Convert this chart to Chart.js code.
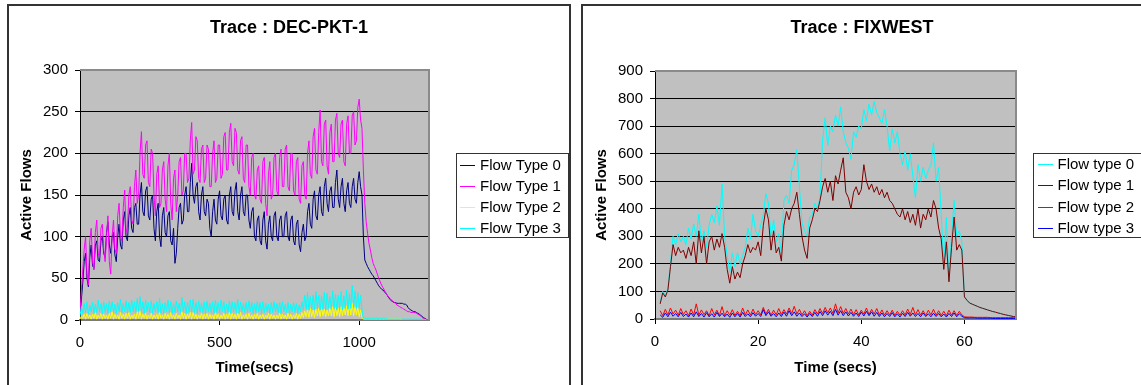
<!DOCTYPE html>
<html>
<head>
<meta charset="utf-8">
<title>Active flows per trace</title>
<script src="https://cdn.jsdelivr.net/npm/chart.js@4.4.1/dist/chart.umd.min.js"></script>
<style>
  html, body { margin: 0; padding: 0; background: #fff; overflow: hidden; }
  body { width: 1141px; height: 385px; position: relative; }
  .panel { position: absolute; top: 4px; height: 420px; border: 2px solid #333; background: #fff; overflow: hidden; }
  #leftPanel { left: 7px; width: 560px; }
  #rightPanel { left: 581px; width: 600px; }
  canvas { position: absolute; left: 0; top: 0; }
</style>
</head>
<body>
<div class="panel" id="leftPanel"><canvas id="decChart" width="560" height="379"></canvas></div>
<div class="panel" id="rightPanel"><canvas id="fixChart" width="558" height="379"></canvas></div>
<script>
/* ── DEC-PKT-1 : samples every 5 s ── */
const DEC_START = 0, DEC_STEP = 5;
const decTicksX = [0, 500, 1000];
const decType0 = [
  5, 25, 45, 70, 80, 50, 40, 75, 90, 65,
  62, 90, 95, 72, 70, 95, 100, 80, 75, 105,
  118, 90, 80, 100, 105, 78, 70, 100, 115, 90,
  85, 120, 130, 100, 95, 125, 135, 110, 105, 135,
  140, 115, 115, 150, 165, 130, 125, 155, 160, 125,
  120, 145, 150, 110, 95, 130, 140, 100, 88, 125,
  135, 105, 100, 125, 130, 95, 90, 110, 68, 80,
  110, 135, 140, 115, 120, 150, 160, 130, 130, 165,
  188, 150, 140, 160, 165, 130, 120, 150, 160, 130,
  125, 145, 140, 110, 100, 130, 145, 120, 115, 145,
  155, 125, 120, 145, 150, 120, 115, 150, 160, 130,
  125, 155, 165, 130, 120, 150, 160, 130, 125, 150,
  150, 120, 110, 130, 135, 100, 95, 120, 125, 95,
  90, 120, 130, 95, 85, 115, 125, 100, 95, 125,
  130, 100, 95, 120, 125, 100, 100, 125, 130, 100,
  95, 120, 125, 95, 90, 115, 120, 90, 82, 105,
  115, 95, 100, 130, 140, 115, 110, 145, 155, 125,
  120, 150, 160, 130, 125, 160, 170, 140, 130, 155,
  160, 135, 135, 165, 180, 145, 135, 160, 170, 140,
  130, 155, 165, 140, 135, 160, 170, 145, 140, 165,
  178, 160, 150, 100, 72, 68, 64, 61, 58, 55,
  53, 50, 47, 44, 41, 39, 37, 36, 34, 32,
  30, 27, 25, 23, 22, 21, 21, 20, 20, 20,
  20, 20, 19, 19, 18, 15, 13, 12, 11, 10,
  10, 9, 8, 7, 6, 4, 3, 2, 1
];
const decType1 = [
  10, 35, 60, 85, 100, 55, 42, 95, 110, 70,
  60, 105, 120, 80, 75, 110, 115, 85, 70, 100,
  125, 70, 55, 100, 120, 85, 80, 125, 140, 100,
  95, 135, 156, 105, 110, 150, 160, 120, 115, 160,
  180, 140, 150, 200, 226, 175, 170, 210, 215, 165,
  160, 205, 200, 150, 125, 175, 185, 135, 140, 180,
  190, 145, 130, 185, 200, 140, 120, 170, 180, 130,
  150, 190, 195, 150, 155, 200, 200, 165, 170, 215,
  237, 175, 180, 220, 215, 170, 165, 205, 210, 165,
  170, 210, 205, 160, 160, 200, 215, 165, 170, 210,
  210, 170, 175, 220, 225, 180, 180, 225, 236, 190,
  185, 230, 225, 180, 175, 215, 220, 170, 165, 210,
  210, 160, 150, 195, 200, 150, 145, 180, 185, 145,
  140, 190, 195, 140, 125, 175, 190, 145, 150, 195,
  200, 155, 150, 195, 205, 160, 160, 205, 210, 160,
  155, 200, 200, 155, 150, 190, 195, 145, 140, 185,
  190, 150, 145, 200, 215, 175, 170, 220, 230, 180,
  175, 225, 252, 190, 185, 235, 240, 185, 175, 225,
  235, 190, 190, 240, 248, 200, 195, 235, 240, 190,
  185, 235, 245, 200, 200, 245, 250, 210, 215, 255,
  265, 240, 230, 180, 140, 118, 104, 92, 84, 75,
  68, 64, 60, 55, 50, 46, 42, 39, 36, 33,
  30, 28, 26, 24, 23, 21, 20, 18, 17, 16,
  15, 14, 13, 12, 11, 10, 10, 9, 9, 9,
  9, 8, 7, 6, 5, 3, 2, 1, 1
];
const decType2 = [
  1, 5, 2, 7, 1, 8, 2, 6, 1, 7,
  2, 9, 1, 6, 2, 8, 1, 7, 2, 6,
  1, 8, 2, 10, 1, 7, 2, 6, 1, 9,
  2, 7, 1, 8, 2, 9, 1, 6, 2, 7,
  1, 10, 2, 11, 1, 7, 2, 8, 1, 6,
  2, 8, 1, 6, 2, 7, 1, 9, 2, 6,
  1, 8, 2, 7, 1, 9, 2, 6, 1, 8,
  2, 6, 1, 10, 2, 8, 1, 7, 2, 9,
  1, 9, 2, 7, 1, 6, 2, 8, 1, 7,
  2, 8, 1, 7, 2, 6, 1, 9, 2, 7,
  1, 6, 2, 8, 1, 7, 2, 9, 1, 8,
  2, 7, 1, 8, 2, 9, 1, 6, 2, 7,
  1, 8, 2, 6, 1, 7, 2, 8, 1, 6,
  2, 7, 1, 6, 2, 8, 1, 7, 2, 6,
  1, 6, 2, 8, 1, 7, 2, 6, 1, 8,
  2, 7, 1, 6, 2, 8, 1, 7, 2, 9,
  3, 11, 4, 12, 3, 14, 4, 12, 3, 13,
  5, 14, 4, 15, 5, 13, 4, 12, 5, 14,
  5, 16, 4, 15, 5, 14, 4, 16, 5, 15,
  6, 17, 5, 19, 6, 20, 5, 16, 6, 15,
  4, 12, 3, 1, 1, 1, 1, 1, 1, 1,
  1, 1, 1, 1, 1, 1, 1, 1, 1, 1,
  1, 1, 1, 1, 1, 1, 1, 1, 1, 1,
  1, 0, 0, 0, 0, 0, 0, 0, 0, 0,
  0, 0, 0, 0, 0, 0, 0, 0, 0
];
const decType3 = [
  5, 16, 8, 20, 9, 22, 7, 18, 10, 21,
  8, 19, 9, 24, 10, 20, 8, 22, 9, 20,
  8, 23, 10, 22, 9, 19, 8, 21, 10, 25,
  9, 20, 10, 23, 8, 21, 9, 24, 10, 22,
  9, 26, 10, 28, 9, 22, 8, 24, 10, 21,
  9, 23, 8, 20, 10, 22, 9, 26, 8, 20,
  8, 21, 10, 24, 9, 22, 8, 20, 9, 23,
  10, 20, 9, 27, 10, 22, 8, 21, 9, 24,
  10, 25, 9, 21, 8, 23, 10, 20, 9, 22,
  8, 23, 10, 20, 9, 22, 8, 24, 9, 21,
  9, 24, 10, 22, 8, 19, 9, 23, 8, 22,
  10, 21, 9, 25, 8, 22, 10, 20, 9, 21,
  9, 23, 10, 21, 8, 20, 9, 22, 10, 21,
  8, 22, 9, 20, 10, 19, 8, 21, 9, 22,
  10, 20, 9, 21, 8, 22, 10, 19, 9, 21,
  8, 19, 10, 21, 9, 20, 8, 18, 10, 22,
  12, 30, 13, 33, 12, 28, 13, 30, 12, 34,
  14, 30, 12, 29, 13, 33, 12, 32, 14, 28,
  13, 35, 14, 31, 12, 30, 13, 34, 12, 29,
  14, 36, 13, 32, 14, 42, 15, 35, 14, 33,
  14, 30, 12, 2, 2, 2, 2, 2, 2, 2,
  2, 2, 2, 2, 2, 2, 2, 2, 2, 2,
  1, 1, 1, 1, 1, 1, 1, 1, 1, 1,
  1, 1, 1, 1, 1, 1, 1, 1, 1, 1,
  1, 1, 1, 1, 1, 0, 0, 0, 0
];

/* ── FIXWEST : samples every 0.5 s from t = 1 s ── */
const FIX_START = 1, FIX_STEP = 0.5;
const fixTicksX = [0, 20, 40, 60];
const fixType0 = [
  60, 100, 85, 110, 200, 300, 270, 310, 280, 300,
  270, 330, 290, 345, 300, 380, 280, 320, 260, 340,
  380, 350, 410, 340, 490, 300, 230, 170, 240, 190,
  240, 200, 230, 260, 330, 290, 380, 320, 300, 340,
  380, 455, 420, 300, 360, 280, 310, 240, 430, 450,
  420, 540, 560, 615, 480, 350, 320, 300, 370, 380,
  420, 400, 440, 650, 730, 630, 700, 680, 740, 700,
  770, 680, 640, 620, 580, 680, 660, 700, 690, 760,
  720, 780, 740, 790, 750, 730, 710, 760, 700, 610,
  690, 640, 680, 600, 560, 610, 540, 600, 520, 440,
  560, 500, 550, 510, 540, 560, 640, 500, 550, 380,
  200, 370, 140, 300, 430, 300, 320, 280, 80, 68,
  58, 54, 50, 46, 42, 39, 36, 33, 30, 27,
  25, 22, 20, 17, 15, 13, 11, 9, 8
];
const fixType1 = [
  55, 95, 80, 105, 190, 270, 230, 260, 240, 250,
  220, 260, 230, 280, 200, 320, 240, 300, 200, 280,
  300, 250, 290, 260, 310, 260, 180, 130, 190, 145,
  170, 150, 200, 230, 270, 240, 260, 250, 280, 230,
  340, 400, 360, 250, 320, 240, 260, 210, 340, 390,
  360, 400, 420, 460, 380, 300, 250, 220, 330, 360,
  400, 390, 430, 480, 510, 460, 500, 430, 520, 490,
  540, 585, 460, 440, 400, 460, 480, 450, 470, 560,
  500, 470, 490, 460, 480, 450, 470, 440, 460, 430,
  420, 400, 380, 370, 400, 360, 390, 350, 380, 340,
  400, 330, 380, 360, 400, 370, 430, 400, 330, 290,
  180, 280, 135, 260, 370, 250, 270, 250, 80, 68,
  58, 54, 50, 46, 42, 39, 36, 33, 30, 27,
  25, 22, 20, 17, 15, 13, 11, 9, 8
];
const fixType2 = [
  30, 12, 35, 15, 40, 18, 32, 14, 38, 16,
  30, 12, 36, 15, 55, 14, 33, 16, 30, 12,
  38, 15, 32, 13, 45, 12, 30, 14, 34, 13,
  28, 12, 40, 15, 33, 14, 36, 16, 30, 15,
  42, 18, 35, 14, 32, 15, 38, 16, 34, 18,
  40, 20, 46, 18, 35, 15, 30, 12, 28, 14,
  34, 18, 38, 20, 42, 22, 40, 20, 55, 22,
  45, 20, 38, 18, 36, 16, 34, 15, 32, 18,
  40, 16, 35, 18, 38, 15, 33, 14, 30, 15,
  32, 13, 28, 14, 30, 15, 36, 16, 42, 15,
  34, 14, 30, 13, 32, 15, 35, 14, 30, 13,
  28, 12, 32, 14, 30, 13, 28, 15, 8, 7,
  7, 7, 6, 6, 6, 6, 6, 6, 5, 5,
  5, 5, 5, 5, 5, 5, 5, 5, 5
];
const fixType3 = [
  15, 6, 22, 8, 25, 10, 20, 8, 24, 9,
  18, 7, 22, 8, 26, 9, 20, 7, 23, 8,
  19, 7, 24, 9, 21, 8, 18, 6, 22, 8,
  20, 7, 24, 9, 19, 8, 23, 10, 20, 9,
  34, 12, 26, 10, 20, 8, 22, 9, 25, 10,
  30, 12, 26, 10, 22, 9, 19, 7, 20, 9,
  24, 10, 27, 12, 30, 14, 28, 12, 35, 14,
  30, 12, 26, 11, 24, 10, 22, 9, 25, 11,
  28, 12, 26, 10, 24, 9, 22, 8, 20, 9,
  23, 8, 19, 7, 21, 9, 24, 10, 22, 9,
  20, 8, 22, 9, 19, 8, 21, 9, 20, 8,
  18, 7, 20, 9, 22, 8, 19, 10, 5, 4,
  4, 4, 4, 3, 3, 3, 3, 3, 3, 2,
  2, 2, 2, 2, 2, 2, 2, 2, 2
];

const FONT = 'Arial, "Liberation Sans", sans-serif';
Chart.defaults.font.family = FONT;
Chart.defaults.color = '#000';

// pair the sample grid with a list of readings
function points(start, step, values) {
  return values.map((v, i) => ({ x: start + i * step, y: v }));
}

/* gray plot area, gray top/right frame and the boxed legend */
const framePlugin = {
  id: 'frame',
  beforeDraw(chart) {
    const { ctx, chartArea: a } = chart;
    ctx.save();
    ctx.fillStyle = '#c0c0c0';
    ctx.fillRect(a.left, a.top, a.right - a.left, a.bottom - a.top);
    ctx.restore();
  },
  afterDraw(chart, args, opts) {
    const { ctx, chartArea: a } = chart;
    ctx.save();
    ctx.strokeStyle = '#8a8a8a';
    ctx.lineWidth = 2;
    ctx.beginPath();
    ctx.moveTo(a.left, a.top);
    ctx.lineTo(a.right, a.top);
    ctx.lineTo(a.right, a.bottom);
    ctx.stroke();

    const lg = opts.legend;
    ctx.fillStyle = '#fff';
    ctx.fillRect(lg.left, lg.top, lg.width, lg.height);
    ctx.strokeStyle = '#333';
    ctx.lineWidth = 1;
    ctx.strokeRect(lg.left + 0.5, lg.top + 0.5, lg.width, lg.height);
    ctx.font = '15px ' + FONT;
    ctx.textBaseline = 'middle';
    ctx.textAlign = 'left';
    chart.data.datasets.forEach((ds, i) => {
      const y = Math.round(lg.firstRow + i * lg.rowStep) + 0.5;
      ctx.strokeStyle = ds.borderColor;
      ctx.beginPath();
      ctx.moveTo(lg.lineX, y);
      ctx.lineTo(lg.lineX + 15, y);
      ctx.stroke();
      ctx.fillStyle = '#000';
      ctx.fillText(ds.label, lg.textX, y);
    });
    ctx.restore();
  }
};

function series(label, color, data, order) {
  return {
    label, data, order,
    borderColor: color,
    backgroundColor: color,
    borderWidth: 1,
    pointRadius: 0,
    tension: 0,
    fill: false
  };
}

function makeChart(id, cfg) {
  return new Chart(document.getElementById(id), {
    type: 'line',
    data: { datasets: cfg.datasets },
    plugins: [framePlugin],
    options: {
      responsive: false,
      animation: false,
      events: [],
      layout: { padding: 0 },
      plugins: {
        legend: { display: false },
        tooltip: { enabled: false },
        title: {
          display: true,
          text: cfg.title,
          color: '#000',
          font: { size: 18, weight: 'bold' },
          padding: { top: 11, bottom: cfg.titleGap }
        },
        frame: { legend: cfg.legend }
      },
      scales: {
        x: {
          type: 'linear',
          min: 0,
          max: cfg.xMax,
          afterFit: s => { s.height = cfg.xAxisHeight; },
          afterBuildTicks: s => { s.ticks = cfg.xTicks.map(v => ({ value: v })); },
          ticks: {
            font: { size: 15 }, color: '#000', padding: 9, maxRotation: 0, autoSkip: false,
            callback: v => String(v)
          },
          grid: { drawOnChartArea: false, drawTicks: true, tickLength: 5, tickColor: '#000' },
          border: { color: '#7a7a7a', width: 2 },
          title: {
            display: true,
            text: cfg.xTitle,
            color: '#000',
            font: { size: 15, weight: 'bold' },
            padding: { top: 0, bottom: 8 }
          }
        },
        y: {
          min: 0,
          max: cfg.yMax,
          afterFit: s => { s.width = cfg.yAxisWidth; },
          ticks: { stepSize: cfg.yStep, font: { size: 15 }, color: '#000', padding: 7 },
          grid: {
            color: c => (c.tick && c.tick.value === cfg.yMax ? 'rgba(0,0,0,0)' : '#000'),
            lineWidth: 1,
            drawTicks: true,
            tickLength: 5,
            tickColor: '#000'
          },
          border: { color: '#000', width: 1 },
          title: {
            display: true,
            text: 'Active Flows',
            color: '#000',
            font: { size: 15, weight: 'bold' },
            padding: { top: cfg.yTitlePad, bottom: 0 }
          }
        },
        // empty right-hand box that keeps room for the legend
        legendRoom: {
          type: 'linear',
          position: 'right',
          display: true,
          afterFit: s => { s.width = cfg.legendRoom; },
          ticks: { display: false },
          grid: { display: false, drawTicks: false },
          border: { display: false }
        }
      }
    }
  });
}

document.addEventListener('DOMContentLoaded', () => {

  /* ── Trace : DEC-PKT-1 ── */
  makeChart('decChart', {
    title: 'Trace : DEC-PKT-1',
    titleGap: 31.4,
    legendRoom: 140,
    xMax: 1250,
    xTicks: decTicksX,
    xTitle: 'Time(secs)',
    xAxisHeight: 65,
    yMax: 300,
    yStep: 50,
    yAxisWidth: 71,
    yTitlePad: 9,
    legend: { left: 447, top: 147, width: 112, height: 84, firstRow: 159, rowStep: 20.9, lineX: 451, textX: 471 },
    datasets: [
      series('Flow Type 0', '#000080', points(DEC_START, DEC_STEP, decType0), 3),
      series('Flow Type 1', '#ff00ff', points(DEC_START, DEC_STEP, decType1), 2),
      series('Flow Type 2', '#ffff00', points(DEC_START, DEC_STEP, decType2), 1),
      series('Flow Type 3', '#00ffff', points(DEC_START, DEC_STEP, decType3), 0)
    ]
  });

  /* ── Trace : FIXWEST ── */
  makeChart('fixChart', {
    title: 'Trace : FIXWEST',
    titleGap: 32.4,
    legendRoom: 125,
    xMax: 70,
    xTicks: fixTicksX,
    xTitle: 'Time (secs)',
    xAxisHeight: 66,
    yMax: 900,
    yStep: 100,
    yAxisWidth: 72,
    yTitlePad: 10,
    legend: { left: 450, top: 147, width: 130, height: 84, firstRow: 158, rowStep: 21.3, lineX: 455, textX: 474.5 },
    datasets: [
      series('Flow type 0', '#00ffff', points(FIX_START, FIX_STEP, fixType0), 3),
      series('Flow type 1', '#800000', points(FIX_START, FIX_STEP, fixType1), 2),
      series('Flow type 2', '#ff0000', points(FIX_START, FIX_STEP, fixType2), 1),
      series('Flow type 3', '#0000ff', points(FIX_START, FIX_STEP, fixType3), 0)
    ]
  });

});
</script>
</body>
</html>
